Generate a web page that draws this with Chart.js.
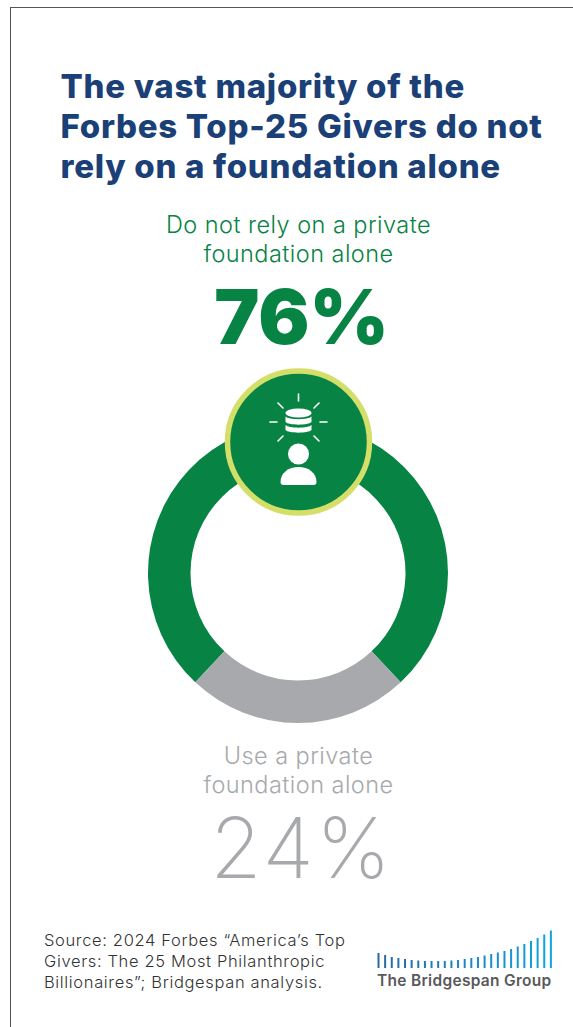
<!DOCTYPE html>
<html>
<head>
<meta charset="utf-8">
<script src="https://cdn.jsdelivr.net/npm/chart.js@4/dist/chart.umd.min.js"></script>
<style>
  html, body { margin: 0; padding: 0; background: #fff; }
  #page { position: relative; width: 573px; height: 1027px; overflow: hidden; font-family: Inter, sans-serif; }
  #frame { position: absolute; left: 10px; top: 7px; width: 600px; height: 1100px; border: 1px solid #555; box-sizing: border-box; }
  .t { position: absolute; white-space: nowrap; margin: 0; }
  .c { left: 0; width: 597px; text-align: center; }
  #ringBox { position: absolute; left: 148px; top: 423px; width: 300px; height: 300px; }
  svg { position: absolute; }
</style>
</head>
<body>
<div id="page">
  <div id="frame"></div>
  <div class="t" style="left:60.500px;top:65.500px;font-size:33px;line-height:40px;font-weight:800;letter-spacing:.72px;color:#1b3f77">The vast majority of the<br>Forbes Top-25 Givers do not<br>rely on a foundation alone</div>
  <div class="t c" style="top:211px;font-size:23.500px;line-height:28.500px;font-weight:300;letter-spacing:.46px;color:#078344">Do not rely on a private<br>foundation alone</div>
  <div class="t c" style="left:3px;top:268px;font-size:76px;line-height:96px;font-weight:900;color:#078344">76%</div>
  <div id="ringBox"><canvas id="ring" width="300" height="300"></canvas></div>
  <svg id="badge" style="left:220px;top:364px" width="157" height="157" viewBox="0 0 157 157">
    <circle cx="78.500" cy="78" r="71" fill="#078344" stroke="#d4df6a" stroke-width="5.500"/>
    <g stroke="#fff" stroke-width="1.600" stroke-linecap="round" fill="none">
      <path d="M78.500 30v7M58 39l5 5M99 39l-5 5M50 58h7M100 58h7M63 72l-5 5M94 72l5 5"/>
    </g>
    <g fill="#fff">
      <ellipse cx="78.500" cy="49" rx="13" ry="4.500"/>
      <path d="M65.500 52.500c3 3.500 23 3.500 26 0v5.500c-3 3.500-23 3.500-26 0z"/>
      <path d="M65.500 61c3 3.500 23 3.500 26 0v5c-3 3.500-23 3.500-26 0z"/>
      <circle cx="78.500" cy="90" r="10.500"/>
      <path d="M60.500 118c0-9 8-15 18-15s18 6 18 15c0 2-1 3-3 3h-30c-2 0-3-1-3-3z"/>
    </g>
  </svg>
  <div class="t c" style="top:742px;font-size:23.500px;line-height:28.500px;font-weight:300;letter-spacing:.46px;color:#a7a9ac">Use a private<br>foundation alone</div>
  <div class="t c" style="left:3px;top:800px;font-size:84px;line-height:96px;font-weight:200;letter-spacing:2px;color:#a7a9ac">24%</div>
  <div class="t" style="left:44px;top:930px;font-size:16.500px;line-height:21px;font-weight:300;letter-spacing:.65px;color:#333">Source: 2024 Forbes “America’s Top<br>Givers: The 25 Most Philanthropic<br>Billionaires”; Bridgespan analysis.</div>
  <svg id="logo" style="left:370px;top:925px" width="195" height="48"></svg>
  <div class="t" style="left:377px;top:972px;font-size:15.500px;line-height:18px;font-weight:600;letter-spacing:.3px;color:#58595b">The Bridgespan Group</div>
</div>
<script>
// Share of the top givers by how they use a private foundation
const categories = ['Do not rely on a private foundation alone', 'Use a private foundation alone'];
const shares = [76, 24];
const sliceColors = ['#078344', '#a7a9ac'];

// Rising bar motif of the organisation mark
const logoBarHeights = [15, 13, 11, 10, 9, 8, 7.500, 7, 7, 7, 7, 7.500, 8, 9, 10, 11, 12.500, 14, 15.500, 17, 19, 21.500, 24, 27, 30, 33.500, 37.500];

new Chart(document.getElementById('ring'), {
  type: 'doughnut',
  data: {
    labels: categories,
    datasets: [{ data: shares, backgroundColor: sliceColors, borderWidth: 0 }]
  },
  options: {
    responsive: false,
    animation: false,
    rotation: 223.2,
    cutout: 107.500,
    plugins: { legend: { display: false }, tooltip: { enabled: false } }
  }
});

const logo = document.getElementById('logo');
logoBarHeights.forEach((h, i) => {
  const r = document.createElementNS('http://www.w3.org/2000/svg', 'rect');
  const f = i / (logoBarHeights.length - 1);
  r.setAttribute('x', 7.500 + i * 6.63);
  r.setAttribute('y', 43 - h);
  r.setAttribute('width', 2);
  r.setAttribute('height', h);
  r.setAttribute('fill', `rgb(${Math.round(40 - 25 * f)},${Math.round(105 + 60 * f)},${Math.round(165 + 55 * f)})`);
  logo.appendChild(r);
});
</script>
</body>
</html>
